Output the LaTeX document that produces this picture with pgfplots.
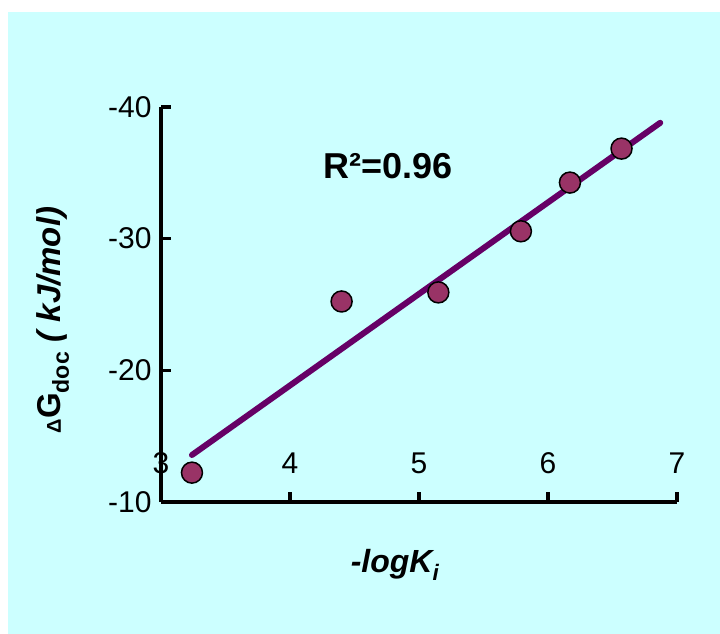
\documentclass[border=0pt]{standalone}
\usepackage{pgfplots}
\pgfplotsset{compat=1.18}
\usepackage{fontspec}
\setmainfont{Liberation Sans}
\definecolor{bgcyan}{HTML}{CCFFFF}
\definecolor{mkfill}{HTML}{993366}
\definecolor{fitline}{HTML}{660066}
\begin{document}
\begin{tikzpicture}[x=1pt,y=1pt]
\fill[white] (0,0) rectangle (720,634);
\fill[bgcyan] (8,0) rectangle (720,622);
\useasboundingbox (0,0) rectangle (720,634);
\begin{axis}[
  at={(161pt,132pt)}, anchor=south west,
  scale only axis, width=516pt, height=395pt,
  xmin=3, xmax=7, ymin=-40, ymax=-10,
  y dir=reverse,
  axis x line=bottom, axis y line=left,
  axis line style={line width=3.5pt, -},
  every tick/.style={line width=3.5pt, black},
  major tick length=10pt, tick align=center,
  xtick style={yshift=5pt},
  ytick style={xshift=5pt},
  xtick={3,4,5,6,7}, xticklabels={3,4,5,6,7},
  ytick={-40,-30,-20,-10}, yticklabels={-40,-30,-20,-10},
  ticklabel style={font=\fontsize{30}{32}\selectfont},
  xticklabel style={anchor=base, yshift=34pt},
  yticklabel style={xshift=-1pt},
  clip=false,
]
\addplot[only marks, mark=*, mark size=10.5pt,
  mark options={fill=mkfill, draw=black, line width=1.5pt}]
  coordinates {(3.24,-12.23) (4.40,-25.23) (5.15,-25.92) (5.79,-30.56) (6.17,-34.26) (6.57,-36.84)};
\addplot[color=fitline, line width=6pt, line cap=round]
  coordinates {(3.24,-13.57) (6.87,-38.80)};
\node[font=\fontsize{36}{40}\selectfont\bfseries] at (axis cs:4.76,-35.5) {R²=0.96};
\end{axis}
\node[font=\fontsize{32}{34}\selectfont\bfseries\itshape] at (395,69) {-logK\textsubscript{i}};
\node[rotate=90, font=\fontsize{33}{35}\selectfont\bfseries] at (53,314)
  {{\fontsize{20}{22}\selectfont Δ}G\textsubscript{doc}\itshape\ ( kJ/mol)};
\end{tikzpicture}
\end{document}
